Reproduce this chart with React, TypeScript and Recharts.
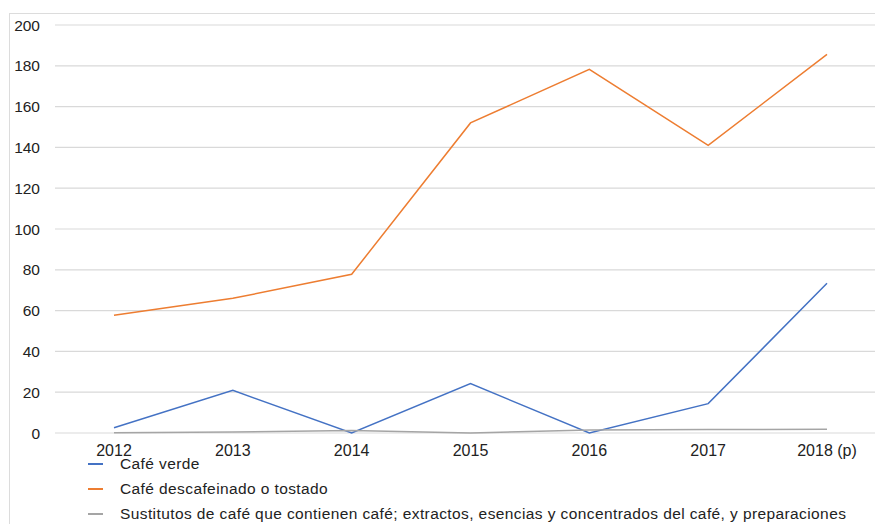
import React from "react";
import {
  LineChart,
  Line,
  XAxis,
  YAxis,
  CartesianGrid,
  Legend,
} from "recharts";

const years = ["2012", "2013", "2014", "2015", "2016", "2017", "2018 (p)"];
const cafeVerde = [2.6, 20.9, 0, 24.2, 0, 14.4, 73.4];
const cafeDescafeinado = [57.7, 66, 77.8, 152, 178.3, 141, 185.6];
const sustitutos = [0.1, 0.5, 1.2, 0, 1.5, 1.7, 1.8];
const yTicks = [0, 20, 40, 60, 80, 100, 120, 140, 160, 180, 200];

const seriesInfo = [
  { key: "verde", name: "Café verde", color: "#4472C4" },
  { key: "descafeinado", name: "Café descafeinado o tostado", color: "#ED7D31" },
  {
    key: "sustitutos",
    name: "Sustitutos de café que contienen café; extractos, esencias y concentrados del café, y preparaciones",
    color: "#A5A5A5",
  },
];

const data = years.map((year, i) => ({
  year,
  verde: cafeVerde[i],
  descafeinado: cafeDescafeinado[i],
  sustitutos: sustitutos[i],
}));

const FONT = "'Liberation Sans', Arial, Helvetica, sans-serif";

function CustomLegend() {
  return (
    <div
      style={{
        height: 75,
        fontFamily: FONT,
        fontSize: 15.5,
        letterSpacing: 0.4,
        color: "#222",
      }}
    >
      {seriesInfo.map((s) => (
        <div
          key={s.key}
          style={{
            display: "flex",
            alignItems: "center",
            height: 25,
            whiteSpace: "nowrap",
          }}
        >
          <span
            style={{
              display: "inline-block",
              width: 15,
              height: 2,
              background: s.color,
              marginRight: 17,
            }}
          />
          <span>{s.name}</span>
        </div>
      ))}
    </div>
  );
}

export default function App() {
  return (
    <div
      style={{
        position: "relative",
        width: 883,
        height: 532,
        margin: -8,
        overflow: "hidden",
        background: "#fff",
      }}
    >
      <div
        style={{
          position: "absolute",
          left: 9,
          top: 13,
          width: 900,
          height: 560,
          border: "1px solid #dcdcdc",
        }}
      />
      <div style={{ position: "absolute", left: 0, top: 0 }}>
        <LineChart
          width={890}
          height={532}
          data={data}
          margin={{ top: 25, right: 4, left: 0, bottom: 0 }}
        >
          <CartesianGrid vertical={false} stroke="#d9d9d9" strokeWidth={1.2} />
          <XAxis
            dataKey="year"
            axisLine={false}
            tickLine={false}
            height={24}
            tickSize={0}
            tickMargin={12}
            interval={0}
            padding={{ left: 59, right: 59 }}
            tick={{ fill: "#222", fontSize: 16, fontFamily: FONT }}
          />
          <YAxis
            width={55}
            domain={[0, 200]}
            ticks={yTicks}
            axisLine={false}
            tickLine={false}
            tickSize={0}
            tickMargin={15}
            interval={0}
            tick={{ fill: "#222", fontSize: 15.5, fontFamily: FONT }}
          />
          <Legend
            layout="horizontal"
            verticalAlign="bottom"
            align="left"
            content={() => <CustomLegend />}
            wrapperStyle={{ left: 88, top: 451, width: 790 }}
          />
          {seriesInfo.map((s) => (
            <Line
              key={s.key}
              type="linear"
              dataKey={s.key}
              name={s.name}
              stroke={s.color}
              strokeWidth={1.5}
              dot={false}
              activeDot={false}
              isAnimationActive={false}
            />
          ))}
        </LineChart>
      </div>
    </div>
  );
}
